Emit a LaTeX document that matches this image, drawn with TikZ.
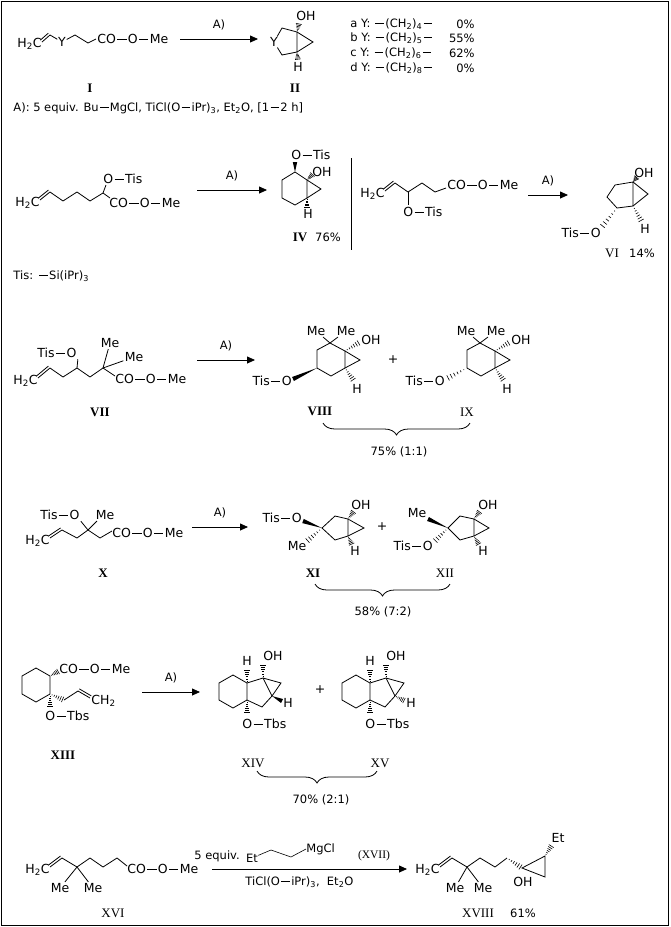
\documentclass[tikz,border=0pt]{standalone}
\usepackage{fontspec}
\setmainfont{DejaVu Sans}
\newfontfamily\romfont{Liberation Serif}
\usetikzlibrary{arrows.meta,calc,decorations.pathreplacing}

\newcommand{\bnd}{\kern1.3pt\rule[0.33em]{0.75em}{0.06em}\kern1.3pt}
\newcommand{\dbl}[2]{\draw (#1) -- (#2); \draw ($(#1)!2.5pt!90:(#2)$) -- ($(#2)!2.5pt!-90:(#1)$);}
\newcommand{\hsh}[2]{\foreach \hs in {0.15,0.3,...,0.95}{\pgfmathsetlengthmacro\hwd{\hs*3.2pt}\draw[line width=0.6pt] ($(#1)!\hs!(#2)!\hwd!90:(#2)$) -- ($(#1)!\hs!(#2)!\hwd!-90:(#2)$);}}
\newcommand{\wdg}[2]{\fill (#1) -- ($(#2)!2.2pt!90:(#1)$) -- ($(#2)!2.2pt!-90:(#1)$) -- cycle;}

\begin{document}
\begin{tikzpicture}[x=1pt,y=-1pt,line width=0.8pt,
  lbl/.style={inner sep=1pt,font=\fontsize{12.5}{14}\selectfont},
  note/.style={inner sep=0pt,font=\fontsize{11.5}{13}\selectfont},
  cpd/.style={inner sep=0pt,font=\romfont\bfseries\fontsize{13}{15}\selectfont},
  cpdthin/.style={inner sep=0pt,font=\romfont\fontsize{13}{15}\selectfont},
  rxn/.style={-{Triangle[length=8pt,width=7pt]}},
  brc/.style={decorate,decoration={brace,amplitude=12pt}}]
  \useasboundingbox (0,0) rectangle (670,927);
  \draw[line width=1pt] (1,1) rectangle (668,925);

  % I
  \node[lbl,anchor=east] (iH) at (43,44) {H\textsubscript{2}C};
  \coordinate (i1) at (42,42);
  \coordinate (i2) at (50,35);
  \node[lbl,inner sep=0.5pt] (iY) at (62,42) {Y};
  \coordinate (i3) at (75,35);
  \coordinate (i4) at (88,43);
  \node[lbl,anchor=west] (iCO) at (96,39) {CO\bnd O\bnd Me};
  \dbl{i1}{i2}
  \draw (i2) -- (iY) -- (i3) -- (i4) -- (iCO.west);
  \coordinate (a1) at (180,39);
  \coordinate (b1) at (258,39);
  \draw[rxn] (a1) to node[note,above=9pt,midway] {A)} (b1);
  % II
  \node[lbl,inner sep=0.5pt] (iiY) at (274,42) {Y};
  \coordinate (ii1) at (282,28);
  \coordinate (ii2) at (297,32);
  \coordinate (ii3) at (297,52);
  \coordinate (ii4) at (282,55);
  \coordinate (ii5) at (313,42);
  \node[lbl] (iiOH) at (306,16) {OH};
  \node[lbl] (iiH) at (298,67) {H};
  \draw (iiY) -- (ii1) -- (ii2) -- (ii3) -- (ii4) -- (iiY);
  \draw (ii2) -- (ii5) -- (ii3);
  \hsh{ii2}{299,23}
  \hsh{ii3}{298,60}
  \node[cpd] (cI) at (90,88) {I};
  \node[cpd] (cII) at (295,88) {II};
  \node[note,anchor=west] (cond) at (13,108) {A): 5 equiv. Bu\bnd MgCl, TiCl(O\bnd iPr)\textsubscript{3}, Et\textsubscript{2}O, [1\bnd 2 h]};
  \node[note,anchor=west] (ya) at (350,24) {a Y: \bnd(CH\textsubscript{2})\textsubscript{4}\bnd};
  \node[note,anchor=east] (pa) at (475,24) {0\%};
  \node[note,anchor=west] (yb) at (350,38) {b Y: \bnd(CH\textsubscript{2})\textsubscript{5}\bnd};
  \node[note,anchor=east] (pb) at (475,38) {55\%};
  \node[note,anchor=west] (yc) at (350,53) {c Y: \bnd(CH\textsubscript{2})\textsubscript{6}\bnd};
  \node[note,anchor=east] (pc) at (475,53) {62\%};
  \node[note,anchor=west] (yd) at (350,68) {d Y: \bnd(CH\textsubscript{2})\textsubscript{8}\bnd};
  \node[note,anchor=east] (pd) at (475,68) {0\%};

  % III
  \node[lbl,anchor=east] (iiiH) at (41,203) {H\textsubscript{2}C};
  \coordinate (iii1) at (40,200);
  \coordinate (iii2) at (50,192);
  \coordinate (iii3) at (63,201);
  \coordinate (iii4) at (77,192);
  \coordinate (iii5) at (90,201);
  \coordinate (iii6) at (103,193);
  \node[lbl,anchor=west] (iiiO) at (102,179) {O\bnd Tis};
  \node[lbl,anchor=west] (iiiCO) at (108,203) {CO\bnd O\bnd Me};
  \dbl{iii1}{iii2}
  \draw (iii2) -- (iii3) -- (iii4) -- (iii5) -- (iii6) -- (106,185);
  \draw (iii6) -- (110,198);
  \coordinate (a2) at (197,190);
  \coordinate (b2) at (267,190);
  \draw[rxn] (a2) to node[note,above=9pt,midway] {A)} (b2);
  % IV
  \coordinate (iv1) at (295,172);
  \coordinate (iv2) at (307,180);
  \coordinate (iv3) at (307,198);
  \coordinate (iv4) at (295,205);
  \coordinate (iv5) at (282,198);
  \coordinate (iv6) at (282,180);
  \coordinate (iv7) at (321,189);
  \node[lbl,anchor=west] (ivO) at (290,155) {O\bnd Tis};
  \node[lbl,anchor=west] (ivOH) at (311,172) {OH};
  \node[lbl] (ivH) at (308,214) {H};
  \draw (iv1) -- (iv2) -- (iv3) -- (iv4) -- (iv5) -- (iv6) -- cycle;
  \draw (iv2) -- (iv7) -- (iv3);
  \wdg{iv1}{295,162}
  \hsh{iv2}{313,174}
  \hsh{iv3}{307,208}
  \node[cpd] (cIV) at (300,237) {IV};
  \node[note] (yIV) at (328,237) {76\%};
  \node[note,anchor=west] (tis) at (13,276) {Tis: \bnd Si(iPr)\textsubscript{3}};
  \draw (351,158) -- (351,250);

  % V
  \node[lbl,anchor=east] (vH) at (386,194) {H\textsubscript{2}C};
  \coordinate (v1) at (385,191);
  \coordinate (v2) at (395,183);
  \coordinate (v3) at (408,192);
  \coordinate (v4) at (422,183);
  \coordinate (v5) at (435,192);
  \node[lbl,anchor=west] (vO) at (402,212) {O\bnd Tis};
  \node[lbl,anchor=west] (vCO) at (446,185) {CO\bnd O\bnd Me};
  \dbl{v1}{v2}
  \draw (v2) -- (v3) -- (v4) -- (v5) -- (446,188);
  \draw (v3) -- (408,205);
  \coordinate (a3) at (528,195);
  \coordinate (b3) at (568,195);
  \draw[rxn] (a3) to node[note,above=9pt,midway] {A)} (b3);
  % VI
  \coordinate (vi1) at (633,182);
  \coordinate (vi2) at (633,206);
  \coordinate (vi3) at (617,208);
  \coordinate (vi4) at (607,197);
  \coordinate (vi5) at (615,185);
  \coordinate (vi6) at (648,194);
  \node[lbl] (viOH) at (644,173) {OH};
  \node[lbl] (viH) at (645,229) {H};
  \node[lbl,anchor=east] (viO) at (602,233) {Tis\bnd O};
  \draw (vi1) -- (vi2) -- (vi3) -- (vi4) -- (vi5) -- cycle;
  \draw (vi1) -- (vi6) -- (vi2);
  \hsh{vi1}{637,177}
  \hsh{vi2}{642,222}
  \hsh{vi3}{601,228}
  \node[cpdthin] (cVI) at (612,253) {VI};
  \node[note] (yVI) at (642,253) {14\%};

  % VII
  \node[lbl,anchor=west] (viiO) at (36,353) {Tis\bnd O};
  \node[lbl] (viiMa) at (110,343) {Me};
  \node[lbl] (viiMb) at (134,357) {Me};
  \node[lbl,anchor=east] (viiH) at (39,381) {H\textsubscript{2}C};
  \coordinate (vii1) at (38,378);
  \coordinate (vii2) at (50,368);
  \coordinate (vii3) at (63,377);
  \coordinate (vii4) at (77,368);
  \coordinate (vii5) at (90,377);
  \coordinate (vii6) at (103,368);
  \node[lbl,anchor=west] (viiCO) at (114,379) {CO\bnd O\bnd Me};
  \dbl{vii1}{vii2}
  \draw (vii2) -- (vii3) -- (vii4) -- (vii5) -- (vii6) -- (115,376);
  \draw (vii4) -- (viiO.south east);
  \draw (vii6) -- (viiMa);
  \draw (vii6) -- (viiMb);
  \coordinate (a4) at (197,360);
  \coordinate (b4) at (255,360);
  \draw[rxn] (a4) to node[note,above=9pt,midway] {A)} (b4);
  \node[cpd] (cVII) at (100,412) {VII};
  % VIII
  \node[lbl] (viiiMa) at (316,331) {Me};
  \node[lbl] (viiiMb) at (346,331) {Me};
  \coordinate (viii1) at (330,343);
  \coordinate (viii2) at (345,351);
  \coordinate (viii3) at (345,368);
  \coordinate (viii4) at (331,376);
  \coordinate (viii5) at (317,368);
  \coordinate (viii6) at (317,350);
  \coordinate (viii7) at (360,360);
  \node[lbl,anchor=west] (viiiOH) at (360,340) {OH};
  \node[lbl] (viiiH) at (357,389) {H};
  \node[lbl,anchor=east] (viiiO) at (293,381) {Tis\bnd O};
  \draw (viii1) -- (viii2) -- (viii3) -- (viii4) -- (viii5) -- (viii6) -- cycle;
  \draw (viii2) -- (viii7) -- (viii3);
  \draw (viiiMa) -- (viii1) -- (viiiMb);
  \hsh{viii2}{360,342}
  \hsh{viii3}{354,381}
  \wdg{viii5}{293,379}
  \node[cpd] (cVIII) at (320,411) {VIII};
  \node[lbl] (plus1) at (393,360) {+};
  % IX
  \node[lbl] (ixMa) at (466,331) {Me};
  \node[lbl] (ixMb) at (496,331) {Me};
  \coordinate (ix1) at (480,343);
  \coordinate (ix2) at (495,351);
  \coordinate (ix3) at (495,368);
  \coordinate (ix4) at (481,376);
  \coordinate (ix5) at (467,368);
  \coordinate (ix6) at (467,350);
  \coordinate (ix7) at (510,360);
  \node[lbl,anchor=west] (ixOH) at (510,340) {OH};
  \node[lbl] (ixH) at (507,389) {H};
  \node[lbl,anchor=east] (ixO) at (446,381) {Tis\bnd O};
  \draw (ix1) -- (ix2) -- (ix3) -- (ix4) -- (ix5) -- (ix6) -- cycle;
  \draw (ix2) -- (ix7) -- (ix3);
  \draw (ixMa) -- (ix1) -- (ixMb);
  \hsh{ix2}{510,342}
  \hsh{ix3}{504,381}
  \hsh{ix5}{446,379}
  \node[cpdthin] (cIX) at (467,412) {IX};
  \draw[brc] (470,423) -- (323,423);
  \node[note] (yVIII) at (399,452) {75\% (1:1)};

  % X
  \node[lbl,anchor=west] (xO) at (39,515) {Tis\bnd O};
  \node[lbl] (xMe) at (105,515) {Me};
  \node[lbl,anchor=east] (xH) at (51,541) {H\textsubscript{2}C};
  \coordinate (x1) at (50,538);
  \coordinate (x2) at (62,530);
  \coordinate (x3) at (77,538);
  \coordinate (x4) at (88,530);
  \coordinate (x5) at (100,538);
  \node[lbl,anchor=west] (xCO) at (111,533) {CO\bnd O\bnd Me};
  \dbl{x1}{x2}
  \draw (x2) -- (x3) -- (x4) -- (x5) -- (112,531);
  \draw (x4) -- (xO.south east);
  \draw (x4) -- (97,521);
  \coordinate (a5) at (192,527);
  \coordinate (b5) at (248,527);
  \draw[rxn] (a5) to node[note,above=9pt,midway] {A)} (b5);
  \node[cpd] (cX) at (103,573) {X};
  % XI
  \node[lbl,anchor=east] (xiO) at (303,518) {Tis\bnd O};
  \node[lbl] (xiMe) at (297,546) {Me};
  \coordinate (xi1) at (322,528);
  \coordinate (xi2) at (335,516);
  \coordinate (xi3) at (348,519);
  \coordinate (xi4) at (348,536);
  \coordinate (xi5) at (335,540);
  \coordinate (xi6) at (364,528);
  \node[lbl] (xiOH) at (361,505) {OH};
  \node[lbl] (xiH) at (355,551) {H};
  \draw (xi1) -- (xi2) -- (xi3) -- (xi4) -- (xi5) -- cycle;
  \draw (xi3) -- (xi6) -- (xi4);
  \wdg{xi1}{303,521}
  \hsh{xi1}{306,542}
  \hsh{xi3}{354,511}
  \hsh{xi4}{352,545}
  \node[cpd] (cXI) at (313,573) {XI};
  \node[lbl] (plus2) at (382,527) {+};
  % XII
  \node[lbl] (xiiMe) at (417,513) {Me};
  \node[lbl,anchor=east] (xiiO) at (434,546) {Tis\bnd O};
  \coordinate (xii1) at (448,528);
  \coordinate (xii2) at (460,516);
  \coordinate (xii3) at (474,519);
  \coordinate (xii4) at (474,536);
  \coordinate (xii5) at (460,540);
  \coordinate (xii6) at (489,528);
  \node[lbl] (xiiOH) at (488,505) {OH};
  \node[lbl] (xiiH) at (483,551) {H};
  \draw (xii1) -- (xii2) -- (xii3) -- (xii4) -- (xii5) -- cycle;
  \draw (xii3) -- (xii6) -- (xii4);
  \wdg{xii1}{428,519}
  \hsh{xii1}{434,542}
  \hsh{xii3}{480,511}
  \hsh{xii4}{479,545}
  \node[cpdthin] (cXII) at (445,573) {XII};
  \draw[brc] (450,584) -- (315,584);
  \node[note] (yXI) at (383,612) {58\% (7:2)};

  % XIII
  \coordinate (xiii1) at (50,676);
  \coordinate (xiii2) at (50,694);
  \coordinate (xiii3) at (36,702);
  \coordinate (xiii4) at (22,694);
  \coordinate (xiii5) at (22,676);
  \coordinate (xiii6) at (36,668);
  \coordinate (xiii7) at (64,700);
  \coordinate (xiii8) at (78,691);
  \coordinate (xiii9) at (90,698);
  \node[lbl,anchor=west] (xiiiCO) at (58,669) {CO\bnd O\bnd Me};
  \node[lbl,anchor=west] (xiiiO) at (44,716) {O\bnd Tbs};
  \node[lbl,anchor=west] (xiiiCH) at (90,701) {CH\textsubscript{2}};
  \draw (xiii1) -- (xiii2) -- (xiii3) -- (xiii4) -- (xiii5) -- (xiii6) -- cycle;
  \hsh{xiii1}{59,671}
  \hsh{xiii2}{50,708}
  \hsh{xiii2}{xiii7}
  \draw (xiii7) -- (xiii8);
  \dbl{xiii8}{xiii9}
  \node[cpd] (cXIII) at (63,755) {XIII};
  \coordinate (a6) at (142,692);
  \coordinate (b6) at (200,692);
  \draw[rxn] (a6) to node[note,above=9pt,midway] {A)} (b6);
  % XIV
  \coordinate (xiv1) at (247,683);
  \coordinate (xiv2) at (247,700);
  \coordinate (xiv3) at (233,708);
  \coordinate (xiv4) at (219,700);
  \coordinate (xiv5) at (219,683);
  \coordinate (xiv6) at (233,675);
  \coordinate (xiv7) at (263,678);
  \coordinate (xiv8) at (272,696);
  \coordinate (xiv9) at (262,707);
  \coordinate (xiv10) at (281,683);
  \node[lbl] (xivHa) at (247,661) {H};
  \node[lbl] (xivOH) at (273,656) {OH};
  \node[lbl] (xivHb) at (288,703) {H};
  \node[lbl,anchor=west] (xivO) at (241,724) {O\bnd Tbs};
  \draw (xiv1) -- (xiv2) -- (xiv3) -- (xiv4) -- (xiv5) -- (xiv6) -- cycle;
  \draw (xiv1) -- (xiv7) -- (xiv8) -- (xiv9) -- (xiv2);
  \draw (xiv7) -- (xiv10) -- (xiv8);
  \hsh{xiv1}{247,669}
  \hsh{xiv7}{263,664}
  \hsh{xiv2}{247,714}
  \wdg{xiv8}{282,701}
  \node[cpdthin] (cXIV) at (253,763) {XIV};
  \node[lbl] (plus3) at (320,690) {+};
  % XV
  \coordinate (xv1) at (370,683);
  \coordinate (xv2) at (370,700);
  \coordinate (xv3) at (356,708);
  \coordinate (xv4) at (342,700);
  \coordinate (xv5) at (342,683);
  \coordinate (xv6) at (356,675);
  \coordinate (xv7) at (386,678);
  \coordinate (xv8) at (395,696);
  \coordinate (xv9) at (385,707);
  \coordinate (xv10) at (404,683);
  \node[lbl] (xvHa) at (370,661) {H};
  \node[lbl] (xvOH) at (396,656) {OH};
  \node[lbl] (xvHb) at (411,703) {H};
  \node[lbl,anchor=west] (xvO) at (364,724) {O\bnd Tbs};
  \draw (xv1) -- (xv2) -- (xv3) -- (xv4) -- (xv5) -- (xv6) -- cycle;
  \draw (xv1) -- (xv7) -- (xv8) -- (xv9) -- (xv2);
  \draw (xv7) -- (xv10) -- (xv8);
  \hsh{xv1}{370,669}
  \hsh{xv7}{386,664}
  \hsh{xv2}{370,714}
  \hsh{xv8}{405,701}
  \node[cpdthin] (cXV) at (380,763) {XV};
  \draw[brc] (377,771) -- (257,771);
  \node[note] (yXIV) at (321,800) {70\% (2:1)};

  % XVI
  \node[lbl,anchor=east] (xviH) at (51,870) {H\textsubscript{2}C};
  \coordinate (xvi1) at (50,867);
  \coordinate (xvi2) at (62,858);
  \coordinate (xvi3) at (77,867);
  \coordinate (xvi4) at (90,858);
  \coordinate (xvi5) at (103,867);
  \coordinate (xvi6) at (117,858);
  \node[lbl] (xviMa) at (60,888) {Me};
  \node[lbl] (xviMb) at (93,888) {Me};
  \node[lbl,anchor=west] (xviCO) at (126,869) {CO\bnd O\bnd Me};
  \dbl{xvi1}{xvi2}
  \draw (xvi2) -- (xvi3) -- (xvi4) -- (xvi5) -- (xvi6) -- (127,866);
  \draw (xviMa) -- (xvi3) -- (xviMb);
  \node[cpdthin] (cXVI) at (113,913) {XVI};
  \coordinate (a7) at (212,869);
  \coordinate (b7) at (407,869);
  \draw[rxn] (a7) -- (b7);
  \node[note,anchor=west] (eq) at (194,856) {5 equiv.};
  \node[note] (et) at (252,858) {Et};
  \coordinate (g1) at (271,850);
  \coordinate (g2) at (291,857);
  \node[note,anchor=west] (mg) at (306,849) {MgCl};
  \draw[line width=0.6pt] (et) -- (g1) -- (g2) -- (mg.west);
  \node[cpdthin,font=\romfont\fontsize{11.5}{13}\selectfont] (cXVII) at (374,856) {(XVII)};
  \node[note,anchor=west] (ti) at (245,882) {TiCl(O\bnd iPr)\textsubscript{3},\ \ Et\textsubscript{2}O};
  % XVIII
  \node[lbl,anchor=east] (xviiiH) at (441,870) {H\textsubscript{2}C};
  \coordinate (xviii1) at (440,867);
  \coordinate (xviii2) at (452,858);
  \coordinate (xviii3) at (467,867);
  \coordinate (xviii4) at (480,858);
  \coordinate (xviii5) at (495,867);
  \coordinate (xviii6) at (507,858);
  \coordinate (xviii7) at (522,868);
  \coordinate (xviii8) at (545,856);
  \coordinate (xviii9) at (545,877);
  \node[lbl] (xviiiMa) at (455,888) {Me};
  \node[lbl] (xviiiMb) at (483,888) {Me};
  \node[lbl] (xviiiEt) at (558,838) {Et};
  \node[lbl] (xviiiOH) at (523,882) {OH};
  \dbl{xviii1}{xviii2}
  \draw (xviii2) -- (xviii3) -- (xviii4) -- (xviii5) -- (xviii6);
  \draw (xviiiMa) -- (xviii3) -- (xviiiMb);
  \hsh{xviii6}{xviii7}
  \draw (xviii7) -- (xviii8) -- (xviii9) -- cycle;
  \hsh{xviii8}{552,845}
  \node[cpdthin] (cXVIII) at (478,913) {XVIII};
  \node[note] (yXVIII) at (523,913) {61\%};
\end{tikzpicture}
\end{document}
